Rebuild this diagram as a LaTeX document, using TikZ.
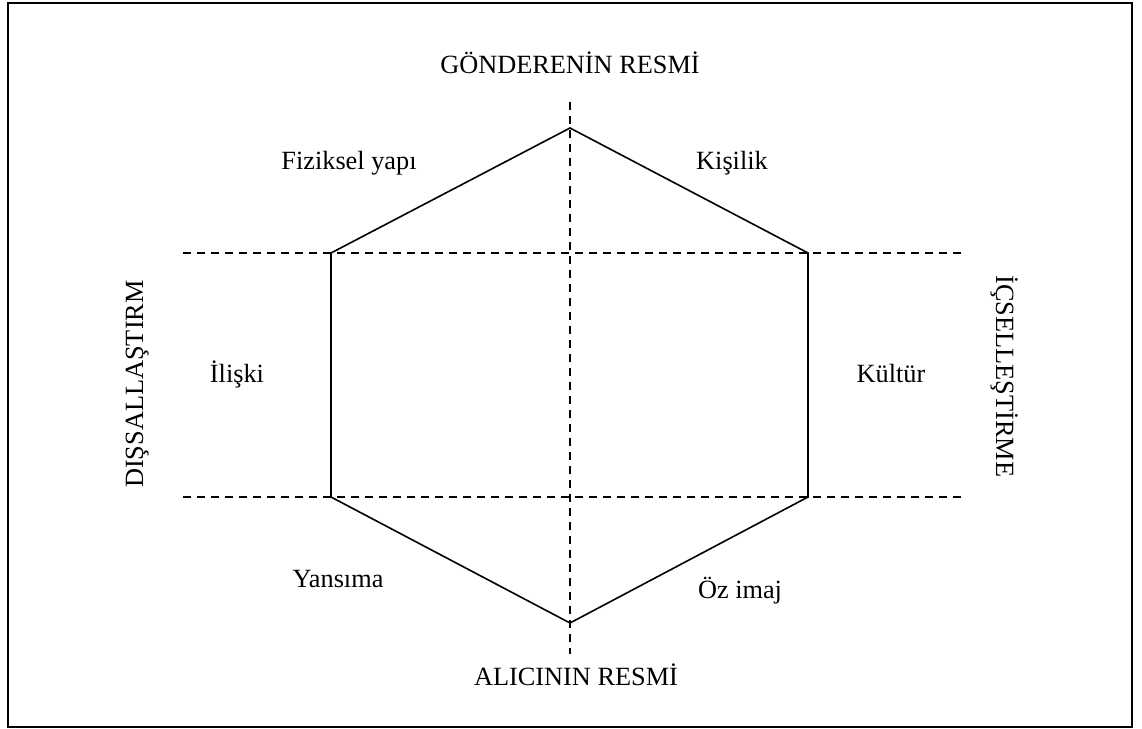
\documentclass[tikz,border=0pt]{standalone}
\usepackage{fontspec}
\setmainfont{Liberation Serif}
\begin{document}
\begin{tikzpicture}[x=1pt,y=-1pt,
  lbl/.style={font=\fontsize{26.3}{29}\selectfont, inner sep=0pt, anchor=base},
  hexline/.style={line width=1.6pt, line join=miter},
  guide/.style={line width=1.4pt, dash pattern=on 8pt off 6pt}]
\useasboundingbox (0,0) rectangle (1142,728);
\draw[line width=1.6pt] (8,3) rectangle (1132,727);
% guides
\coordinate (h1a) at (183,253); \coordinate (h1b) at (962,253);
\coordinate (h2a) at (183,497); \coordinate (h2b) at (962,497);
\coordinate (va) at (570,102); \coordinate (vb) at (570,654);
\draw[guide] (h1a) -- (h1b);
\draw[guide] (h2a) -- (h2b);
\draw[guide] (va) -- (vb);
% hexagon
\coordinate (pT) at (570,128);
\coordinate (pUR) at (808,253);
\coordinate (pLR) at (808,497);
\coordinate (pB) at (570,623);
\coordinate (pLL) at (331,497);
\coordinate (pUL) at (331,253);
\draw[hexline] (pT) -- (pUR) -- (pLR) -- (pB) -- (pLL) -- (pUL) -- cycle;
% labels (anchor = baseline centre)
\node[lbl] (top) at (570,73) {GÖNDERENİN RESMİ};
\node[lbl] (bot) at (576,685) {ALICININ RESMİ};
\node[lbl] (fiz) at (349,169) {Fiziksel yapı};
\node[lbl] (kis) at (732,169) {Kişilik};
\node[lbl] (ili) at (237,382) {İlişki};
\node[lbl] (kul) at (891,382) {Kültür};
\node[lbl] (yan) at (338,587) {Yansıma};
\node[lbl] (oz) at (740,598) {Öz imaj};
\node[lbl, rotate=90] (dis) at (143,384) {DIŞSALLAŞTIRM};
\node[lbl, rotate=-90] (ics) at (996,376.5) {İÇSELLEŞTİRME};
\end{tikzpicture}
\end{document}
